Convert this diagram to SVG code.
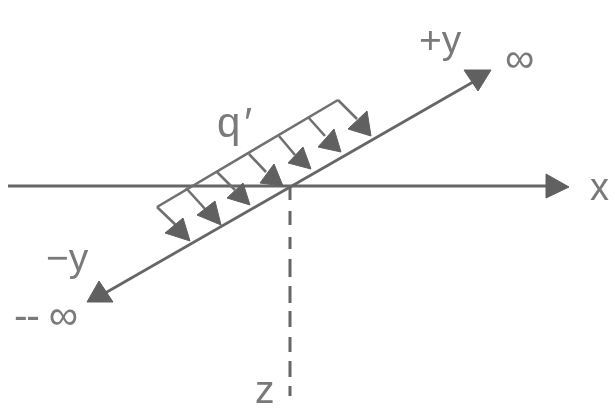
<svg xmlns="http://www.w3.org/2000/svg" width="615" height="413" viewBox="0 0 615 413">
<defs><filter id="soft" x="-5%" y="-5%" width="110%" height="110%"><feGaussianBlur stdDeviation="0.5"/></filter></defs>
<style>
.l{stroke:#666;stroke-width:2.8;fill:none}
.t{stroke:#707070;stroke-width:2.6;fill:none}
.h{fill:#606060;stroke:#606060;stroke-width:1;stroke-linejoin:round}
.d{stroke:#666;stroke-width:3;fill:none}
text{font-family:"Liberation Sans",Arial,sans-serif;fill:#7a7a7a}
</style>
<rect width="615" height="413" fill="#fff"/>
<g id="connectors" filter="url(#soft)">
<path class="l" d="M8 186H548"/>
<path class="l" d="M100 296L480 78"/>
<path class="d" d="M290 187V200M290 211V225M290 237V249M290 259V277M290 286V303M290 311V327M290 337V352M290 361V377M290 386V396"/>
<path class="t" d="M157 207L338 100"/>
<path class="t" d="M157 207L181 230M186 188L206 210M217 172L235 190M249 154L266 172M279 136L295 155M308 117L325 136M338 100L357 119"/>
<polygon class="h" points="546,174 546,198 569,187"/>
<polygon class="h" points="464,70 491,70 478,91"/>
<polygon class="h" points="99,281 87,302 113,302"/>
<polygon class="h" points="190,241 165,233 183,218"/>
<polygon class="h" points="221,225 197,215 215,201"/>
<polygon class="h" points="250,205 227,198 243,183"/>
<polygon class="h" points="283,186 260,183 274,164"/>
<polygon class="h" points="311,169 288,163 303,147"/>
<polygon class="h" points="341,152 318,147 334,129"/>
<polygon class="h" points="371,136 348,129 367,111"/>
</g>
<g id="label-q" filter="url(#soft)"><text x="217" y="137" font-size="42" letter-spacing="4">q′</text></g>
<g id="label-plus-y" filter="url(#soft)"><text x="419" y="53" font-size="39">+y</text></g>
<g id="label-inf-top" filter="url(#soft)"><text x="505" y="72" font-size="41">∞</text></g>
<g id="label-x" filter="url(#soft)"><text x="590" y="200" font-size="38">x</text></g>
<g id="label-minus-y" filter="url(#soft)"><text x="46" y="271" font-size="39">−y</text></g>
<g id="label-minus-inf" filter="url(#soft)"><text x="14" y="329" font-size="41" textLength="64">-- ∞</text></g>
<g id="label-z" filter="url(#soft)"><text x="255" y="403" font-size="39">z</text></g>
</svg>
